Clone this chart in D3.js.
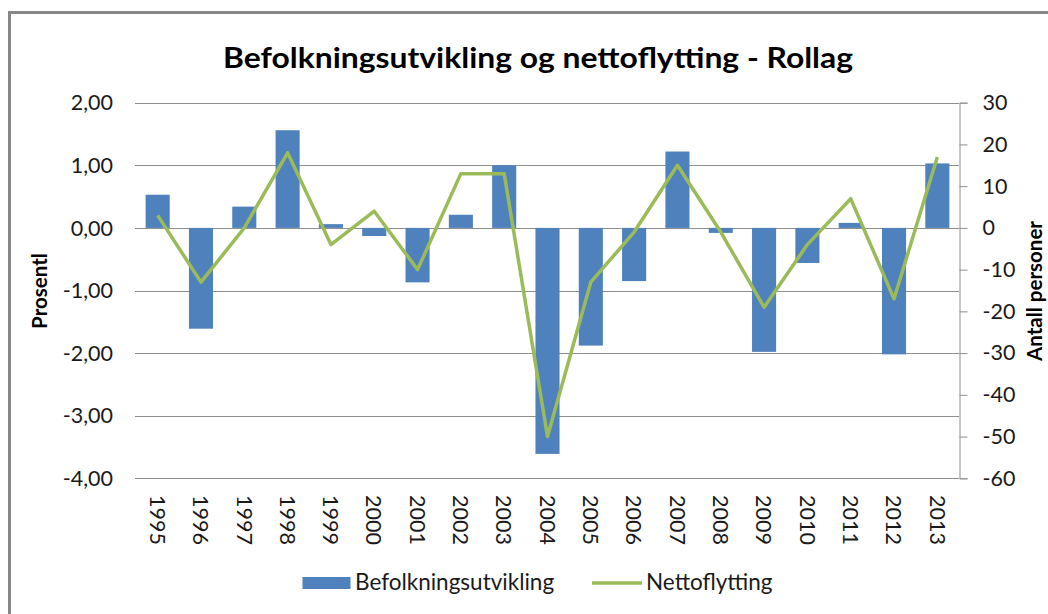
<!DOCTYPE html>
<html>
<head>
<meta charset="utf-8">
<script src="https://cdn.jsdelivr.net/npm/d3@7"></script>
<style>
  body { margin: 0; background: #fff; }
  svg { display: block; font-family: Lato, "Open Sans", sans-serif; }
</style>
</head>
<body>
<div id="chart"></div>
<script>
// data
var years = ["1995", "1996", "1997", "1998", "1999", "2000", "2001", "2002", "2003", "2004",
  "2005", "2006", "2007", "2008", "2009", "2010", "2011", "2012", "2013"];
var befolkning = [0.53, -1.61, 0.34, 1.56, 0.06, -0.13, -0.87, 0.21, 1.00, -3.61,
  -1.88, -0.85, 1.22, -0.08, -1.98, -0.56, 0.08, -2.02, 1.03];
var nettoflytting = [3, -13, 0, 18, -4, 4, -10, 13, 13, -50,
  -13, -1, 15, -1, -19, -4, 7, -17, 17];
var leftTicks = [2, 1, 0, -1, -2, -3, -4];
var rightTicks = [30, 20, 10, 0, -10, -20, -30, -40, -50, -60];

var svgWidth = 1048;
var svgHeight = 614;

var plot = { left: 136, right: 959, top: 102.7, bottom: 478.3 };

var barColor = "#4f81bd";
var lineColor = "#9bbb59";
var gridColor = "#8e8e8e";
var textColor = "#1a1a1a";
var tickFont = 21.5;

var svg = d3.select("#chart").append("svg")
  .attr("width", svgWidth)
  .attr("height", svgHeight);

// outer frame of the chart area (runs off the right and bottom edges)
svg.append("rect")
  .attr("x", 9.5)
  .attr("y", 12.5)
  .attr("width", 1060)
  .attr("height", 640)
  .attr("fill", "none")
  .attr("stroke", "#878787")
  .attr("stroke-width", 3);

var xScale = d3.scaleBand()
  .domain(years)
  .range([plot.left, plot.right])
  .paddingInner(0.444)
  .paddingOuter(0.222);

var yLeft = d3.scaleLinear()
  .domain([-4, 2])
  .range([plot.bottom, plot.top]);

var yRight = d3.scaleLinear()
  .domain([-60, 30])
  .range([plot.bottom, plot.top]);

// gridlines
svg.append("g")
  .selectAll("line")
  .data(leftTicks)
  .enter()
  .append("line")
  .attr("x1", plot.left - 1)
  .attr("x2", plot.right)
  .attr("y1", d => Math.round(yLeft(d)) + 0.5)
  .attr("y2", d => Math.round(yLeft(d)) + 0.5)
  .attr("stroke", gridColor)
  .attr("stroke-width", 1);

// left axis labels (comma decimals, plain hyphen minus)
var fmt = d3.format(".2f");
svg.append("g")
  .selectAll("text")
  .data(leftTicks)
  .enter()
  .append("text")
  .attr("x", 113)
  .attr("y", d => yLeft(d))
  .attr("dy", "0.36em")
  .attr("text-anchor", "end")
  .attr("font-size", tickFont)
  .attr("fill", textColor)
  .text(d => fmt(d).replace(".", ",").replace("\u2212", "-"));

// right axis
var rightAxis = d3.axisRight(yRight)
  .tickValues(rightTicks)
  .tickSize(8)
  .tickPadding(15)
  .tickFormat(d => String(d));

var rightG = svg.append("g")
  .attr("transform", `translate(${plot.right + 0.5}, 0)`)
  .call(rightAxis);

rightG.select(".domain").attr("stroke", gridColor);
rightG.selectAll(".tick line").attr("stroke", gridColor);
rightG.selectAll(".tick text")
  .attr("font-size", tickFont)
  .attr("font-family", "Lato, sans-serif")
  .attr("fill", textColor);

// bars
svg.append("g")
  .selectAll("rect")
  .data(befolkning)
  .enter()
  .append("rect")
  .attr("x", (d, i) => xScale(years[i]))
  .attr("width", xScale.bandwidth())
  .attr("y", d => yLeft(Math.max(0, d)))
  .attr("height", d => Math.abs(yLeft(d) - yLeft(0)))
  .attr("fill", barColor);

// line
var line = d3.line()
  .x((d, i) => xScale(years[i]) + xScale.bandwidth() / 2)
  .y(d => yRight(d));

svg.append("path")
  .datum(nettoflytting)
  .attr("d", line)
  .attr("fill", "none")
  .attr("stroke", lineColor)
  .attr("stroke-width", 3.5)
  .attr("stroke-linejoin", "round");

// year labels, rotated
svg.append("g")
  .selectAll("text")
  .data(years)
  .enter()
  .append("text")
  .attr("transform", d => `translate(${xScale(d) + xScale.bandwidth() / 2}, 495) rotate(90)`)
  .attr("dy", "0.36em")
  .attr("text-anchor", "start")
  .attr("font-size", tickFont)
  .attr("fill", textColor)
  .text(d => d);

// title
svg.append("text")
  .attr("x", 538)
  .attr("y", 68)
  .attr("text-anchor", "middle")
  .attr("font-size", 29)
  .attr("font-weight", "bold")
  .attr("textLength", 630)
  .attr("lengthAdjust", "spacingAndGlyphs")
  .attr("fill", "#000")
  .text("Befolkningsutvikling og nettoflytting - Rollag");

// axis titles
svg.append("text")
  .attr("transform", "translate(47, 291) rotate(-90)")
  .attr("text-anchor", "middle")
  .attr("font-size", 20.5)
  .attr("font-weight", "bold")
  .attr("fill", "#000")
  .text("Prosentl");

svg.append("text")
  .attr("transform", "translate(1042, 291) rotate(-90)")
  .attr("text-anchor", "middle")
  .attr("font-size", 20.5)
  .attr("font-weight", "bold")
  .attr("fill", "#000")
  .text("Antall personer");

// legend
var legend = svg.append("g");
legend.append("rect")
  .attr("x", 302.5)
  .attr("y", 577)
  .attr("width", 48)
  .attr("height", 12)
  .attr("fill", barColor);
legend.append("text")
  .attr("x", 355)
  .attr("y", 590)
  .attr("font-size", 22.5)
  .attr("fill", textColor)
  .text("Befolkningsutvikling");
legend.append("line")
  .attr("x1", 592)
  .attr("x2", 642)
  .attr("y1", 583)
  .attr("y2", 583)
  .attr("stroke", lineColor)
  .attr("stroke-width", 3.5);
legend.append("text")
  .attr("x", 646)
  .attr("y", 590)
  .attr("font-size", 22.5)
  .attr("fill", textColor)
  .text("Nettoflytting");
</script>
</body>
</html>
